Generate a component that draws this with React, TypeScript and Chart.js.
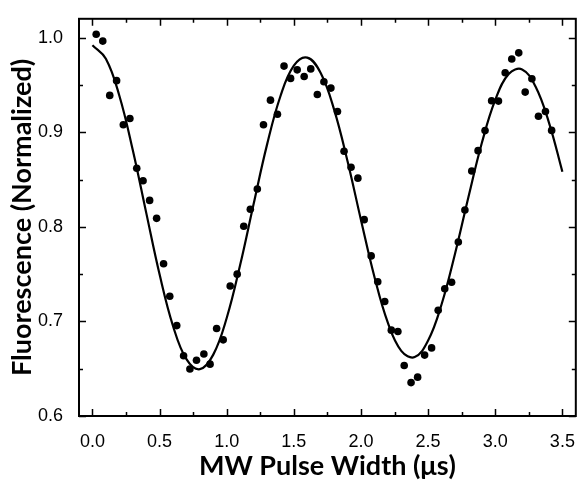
import React, { useEffect, useRef } from "react";
import { Chart, registerables } from "chart.js";

Chart.register(...registerables);

// Measured data points (MW pulse width in µs, normalized fluorescence)
const dotX = [
  0.028, 0.077, 0.129, 0.18, 0.23, 0.279, 0.33, 0.377, 0.426, 0.478,
  0.53, 0.576, 0.628, 0.679, 0.726, 0.775, 0.83, 0.876, 0.925, 0.974,
  1.026, 1.078, 1.127, 1.176, 1.228, 1.274, 1.326, 1.378, 1.427, 1.476,
  1.525, 1.577, 1.626, 1.675, 1.724, 1.776, 1.825, 1.874, 1.926, 1.977,
  2.024, 2.076, 2.125, 2.177, 2.226, 2.275, 2.322, 2.373, 2.422, 2.474,
  2.526, 2.575, 2.624, 2.675, 2.725, 2.774, 2.825, 2.872, 2.924, 2.973,
  3.024, 3.074, 3.123, 3.175, 3.223, 3.273, 3.322, 3.374, 3.42,
];
const dotY = [
  1.0036, 0.9964, 0.939, 0.9546, 0.908, 0.9145, 0.862, 0.8487, 0.828, 0.809,
  0.761, 0.7267, 0.6956, 0.6637, 0.6497, 0.659, 0.6655, 0.6548, 0.6925, 0.6805,
  0.7374, 0.75, 0.8007, 0.8186, 0.84, 0.908, 0.934, 0.919, 0.97, 0.957,
  0.966, 0.959, 0.967, 0.94, 0.9535, 0.9467, 0.922, 0.8799, 0.863, 0.8515,
  0.8076, 0.7693, 0.742, 0.721, 0.6908, 0.6894, 0.6534, 0.6353, 0.6411, 0.6644,
  0.672, 0.7117, 0.7346, 0.7415, 0.784, 0.8179, 0.859, 0.8806, 0.9018, 0.9333,
  0.933, 0.963, 0.9775, 0.984, 0.9425, 0.9566, 0.917, 0.922, 0.902,
];

// Fitted curve
const fitX = [
  0.0, 0.1, 0.2, 0.3, 0.4, 0.5, 0.6, 0.7, 0.8, 0.9,
  1.0, 1.1, 1.2, 1.3, 1.4, 1.5, 1.6, 1.7, 1.8, 1.9,
  2.0, 2.1, 2.2, 2.3, 2.4, 2.5, 2.6, 2.7, 2.8, 2.9,
  3.0, 3.1, 3.2, 3.3, 3.4, 3.5,
];
const fitY = [
  0.992, 0.9777, 0.9389, 0.8816, 0.8153, 0.7498, 0.6953, 0.6601, 0.6495, 0.6649,
  0.7036, 0.7596, 0.8239, 0.8867, 0.9381, 0.9705, 0.979, 0.9627, 0.924, 0.8694,
  0.8073, 0.7473, 0.6987, 0.6689, 0.6623, 0.6798, 0.7179, 0.7713, 0.8313, 0.8886,
  0.9342, 0.9616, 0.9665, 0.9484, 0.9103, 0.8583,
];

const xMajorTicks = [0, 0.5, 1.0, 1.5, 2.0, 2.5, 3.0, 3.5];
const xMinorTicks = [0.25, 0.75, 1.25, 1.75, 2.25, 2.75, 3.25];
const yMajorTicks = [0.6, 0.7, 0.8, 0.9, 1.0];
const yMinorTicks = [0.65, 0.75, 0.85, 0.95];

const xTitle = "MW Pulse Width (\u03bcs)";
const yTitle = "Fluorescence (Normalized)";

const framePlugin = {
  id: "frameTicks",
  afterDraw(chart: any) {
    const { ctx, chartArea: a, scales } = chart;
    const xs = scales.x;
    const ys = scales.y;
    ctx.save();
    ctx.strokeStyle = "#000";
    ctx.lineWidth = 1.5;
    ctx.beginPath();
    const major = 7;
    const minor = 4;
    for (const v of xMajorTicks) {
      const p = Math.round(xs.getPixelForValue(v)) + 0.5;
      ctx.moveTo(p, a.bottom);
      ctx.lineTo(p, a.bottom - major);
      ctx.moveTo(p, a.top);
      ctx.lineTo(p, a.top + major);
    }
    for (const v of xMinorTicks) {
      const p = Math.round(xs.getPixelForValue(v)) + 0.5;
      ctx.moveTo(p, a.bottom);
      ctx.lineTo(p, a.bottom - minor);
      ctx.moveTo(p, a.top);
      ctx.lineTo(p, a.top + minor);
    }
    for (const v of yMajorTicks) {
      const p = Math.round(ys.getPixelForValue(v)) + 0.5;
      ctx.moveTo(a.left, p);
      ctx.lineTo(a.left + major, p);
      ctx.moveTo(a.right, p);
      ctx.lineTo(a.right - major, p);
    }
    for (const v of yMinorTicks) {
      const p = Math.round(ys.getPixelForValue(v)) + 0.5;
      ctx.moveTo(a.left, p);
      ctx.lineTo(a.left + minor, p);
      ctx.moveTo(a.right, p);
      ctx.lineTo(a.right - minor, p);
    }
    ctx.stroke();
    ctx.lineWidth = 2;
    ctx.strokeRect(a.left, a.top, a.right - a.left, a.bottom - a.top);
    ctx.restore();
  },
};

export default function App() {
  const ref = useRef<HTMLCanvasElement | null>(null);

  useEffect(() => {
    if (!ref.current) return;
    const tickFont = { family: "'Liberation Sans', Arial, sans-serif", size: 18 };
    const titleFont = { family: "Lato, 'Open Sans', sans-serif", size: 27, weight: "bold" as const };
    const chart = new Chart(ref.current, {
      type: "scatter",
      data: {
        datasets: [
          {
            label: "data",
            data: dotX.map((x, i) => ({ x, y: dotY[i] })),
            pointRadius: 3.8,
            pointBackgroundColor: "#000",
            pointBorderWidth: 0,
            showLine: false,
            order: 0,
          },
          {
            label: "fit",
            data: fitX.map((x, i) => ({ x, y: fitY[i] })),
            showLine: true,
            pointRadius: 0,
            borderColor: "#000",
            borderWidth: 2.2,
            tension: 0.4,
            order: 1,
          },
        ],
      },
      options: {
        responsive: false,
        animation: false,
        layout: { padding: { top: 7, right: 2, left: 0, bottom: 0 } },
        plugins: { legend: { display: false }, tooltip: { enabled: false } },
        scales: {
          x: {
            type: "linear",
            min: -0.1,
            max: 3.6,
            grid: { display: false },
            border: { display: false },
            ticks: {
              stepSize: 0.5,
              includeBounds: false,
              font: tickFont,
              color: "#000",
              padding: 7,
              maxRotation: 0,
              callback: (v: any) => Number(v).toFixed(1),
            },
            title: {
              display: true,
              text: xTitle,
              font: titleFont,
              color: "#000",
              padding: { top: 0, bottom: 0 },
            },
            afterFit: (s: any) => {
              s.height = 66;
            },
          },
          y: {
            type: "linear",
            min: 0.6,
            max: 1.02,
            grid: { display: false },
            border: { display: false },
            ticks: {
              stepSize: 0.1,
              includeBounds: false,
              font: tickFont,
              color: "#000",
              padding: 8,
              callback: (v: any) => Number(v).toFixed(1),
            },
            title: {
              display: true,
              text: yTitle,
              font: titleFont,
              color: "#000",
              padding: { top: 6, bottom: 0 },
            },
            afterFit: (s: any) => {
              s.width = 79;
            },
          },
        },
      },
      plugins: [framePlugin],
    });
    return () => chart.destroy();
  }, []);

  return (
    <div style={{ position: "absolute", left: 0, top: 0, width: 582, height: 482, background: "#fff" }}>
      <canvas ref={ref} width={582} height={482} style={{ display: "block" }} />
    </div>
  );
}
